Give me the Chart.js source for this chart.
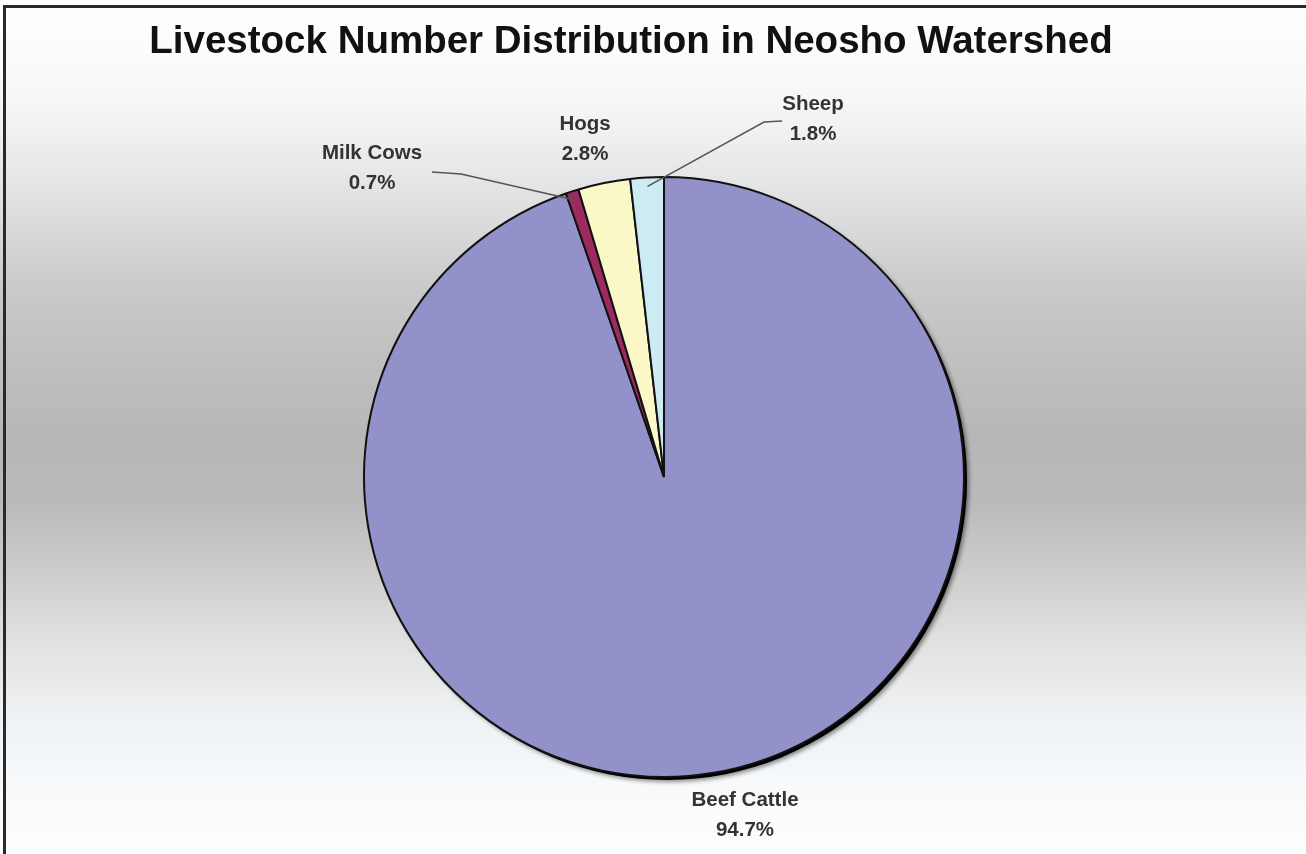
<!DOCTYPE html>
<html>
<head>
<meta charset="utf-8">
<title>Livestock Number Distribution in Neosho Watershed</title>
<script src="https://cdn.jsdelivr.net/npm/chart.js@4.4.0/dist/chart.umd.min.js"></script>
<style>
  html, body { margin: 0; padding: 0; background: #fff; }
  canvas { display: block; }
</style>
</head>
<body>
<canvas id="livestockChart" width="1306" height="854"></canvas>
<script>
// Livestock groups and their share (%)
const categories = ['Beef Cattle', 'Milk Cows', 'Hogs', 'Sheep'];
const shares = [94.7, 0.7, 2.8, 1.8];
const shareLabels = ['94.7%', '0.7%', '2.8%', '1.8%'];

const chartTitle = 'Livestock Number Distribution in Neosho Watershed';
const sliceColors = ['#9391c9', '#9b2a5f', '#fbf8c8', '#cdebf3'];

// where each label sits, and the bend of its leader line (if any)
const labelPlaces = [
    { x: 745, y: 800, leader: null },
    { x: 372, y: 153, leader: [[432, 172], [461, 174]] },
    { x: 585, y: 124, leader: null },
    { x: 813, y: 104, leader: [[782, 121], [764, 122]] }
];

// grey band background + frame
const bandStops = [
    [0, '#ffffff'], [80, '#f8fafa'], [136, '#eef0f2'], [212, '#dedede'],
    [288, '#cacaca'], [364, '#bfbfbf'], [440, '#b7b7b7'], [500, '#bababa'],
    [566, '#cbcbcb'], [617, '#dadada'], [668, '#e6e7e8'], [718, '#eff2f4'],
    [794, '#f8fafc'], [854, '#fdfefe']
];
const backdrop = {
    id: 'backdrop',
    beforeDraw(chart) {
        const ctx = chart.ctx;
        const h = chart.height;
        const g = ctx.createLinearGradient(0, 0, 0, h);
        bandStops.forEach(([y, c]) => g.addColorStop(Math.min(y / h, 1), c));
        ctx.save();
        ctx.fillStyle = g;
        ctx.fillRect(0, 0, chart.width, h);
        ctx.fillStyle = '#2a2a2a';
        ctx.fillRect(3, 5, chart.width - 3, 3); // top edge
        ctx.fillRect(3, 5, 3, h - 5); // left edge
        ctx.restore();
    }
};

// dark drop shadow under the pie
const pieShadow = {
    id: 'pieShadow',
    beforeDatasetsDraw(chart) {
        const arc = chart.getDatasetMeta(0).data[0];
        if (!arc) return;
        const ctx = chart.ctx;
        ctx.save();
        ctx.shadowColor = 'rgba(0,0,0,0.45)';
        ctx.shadowBlur = 4;
        ctx.shadowOffsetX = 2;
        ctx.shadowOffsetY = 2;
        ctx.fillStyle = '#000';
        ctx.beginPath();
        ctx.arc(arc.x + 3, arc.y + 3, arc.outerRadius, 0, Math.PI * 2);
        ctx.fill();
        ctx.restore();
    }
};

// title and slice labels with leader lines
const textLayer = {
    id: 'textLayer',
    afterDraw(chart) {
        const ctx = chart.ctx;
        ctx.save();
        ctx.fillStyle = '#111';
        ctx.font = 'bold 38.5px "Liberation Sans", Arial, sans-serif';
        ctx.textAlign = 'center';
        ctx.textBaseline = 'alphabetic';
        ctx.fillText(chartTitle, 631, 53);

        ctx.textBaseline = 'middle';
        const arcs = chart.getDatasetMeta(0).data;
        arcs.forEach((arc, i) => {
            const place = labelPlaces[i];
            if (place.leader) {
                const mid = (arc.startAngle + arc.endAngle) / 2;
                const r = arc.outerRadius - 9;
                ctx.strokeStyle = '#555';
                ctx.lineWidth = 1.5;
                ctx.beginPath();
                ctx.moveTo(place.leader[0][0], place.leader[0][1]);
                ctx.lineTo(place.leader[1][0], place.leader[1][1]);
                ctx.lineTo(arc.x + Math.cos(mid) * r, arc.y + Math.sin(mid) * r);
                ctx.stroke();
            }
            ctx.fillStyle = '#333';
            ctx.font = 'bold 20.5px "Liberation Sans", Arial, sans-serif';
            ctx.fillText(categories[i], place.x, place.y);
            ctx.fillText(shareLabels[i], place.x, place.y + 30);
        });
        ctx.restore();
    }
};

const ctxLivestock = document.getElementById('livestockChart').getContext('2d');
const livestockChart = new Chart(ctxLivestock, {
    type: 'pie',
    data: {
        labels: categories,
        datasets: [{
            data: shares,
            backgroundColor: sliceColors,
            borderColor: '#111',
            borderWidth: 2
        }]
    },
    options: {
        responsive: false,
        animation: false,
        layout: {
            padding: { top: 176, bottom: 76, left: 363, right: 341 }
        },
        plugins: {
            legend: { display: false },
            title: { display: false },
            tooltip: { enabled: false }
        }
    },
    plugins: [backdrop, pieShadow, textLayer]
});
</script>
</body>
</html>
